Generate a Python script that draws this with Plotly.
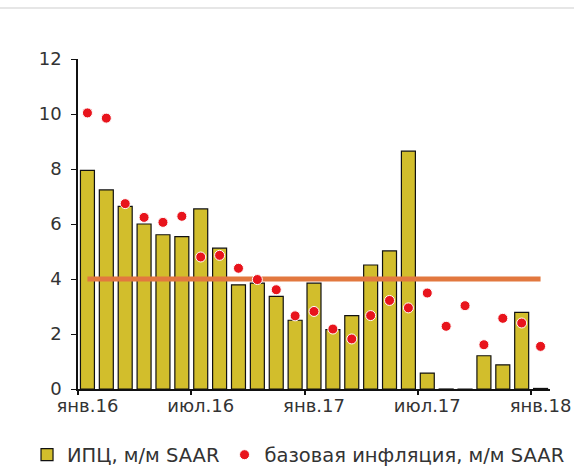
import plotly.graph_objects as go

tick_labels = ["янв.16", "июл.16", "янв.17", "июл.17", "янв.18"]
cpi_mm_saar = [7.95, 7.24, 6.64, 6.0, 5.61, 5.54, 6.55, 5.12, 3.79, 3.85, 3.37, 2.5,
               3.85, 2.16, 2.67, 4.51, 5.02, 8.65, 0.58, -0.04, -0.1, 1.21, 0.88, 2.79, 0.02]
core_mm_saar = [10.04, 9.85, 6.74, 6.24, 6.06, 6.28, 4.8, 4.86, 4.39, 3.98, 3.61, 2.66,
                2.82, 2.18, 1.82, 2.67, 3.22, 2.95, 3.49, 2.28, 3.03, 1.61, 2.57, 2.4, 1.55]
target = [4] * len(cpi_mm_saar)

idx = list(range(len(cpi_mm_saar)))
label_pos = list(range(0, len(idx), 6))
tick_pos = [i - 0.5 for i in label_pos]
xrange = [-0.5, len(idx) - 0.5]

FONT = "DejaVu Sans, Verdana, sans-serif"
TXT = "#333333"

W, H = 574, 467
ML, MR, MT, MB = 78, 24, 59, 78
plot_h = H - MT - MB

fig = go.Figure()
fig.add_trace(go.Bar(
    x=idx, y=cpi_mm_saar, name="ИПЦ, м/м SAAR", width=0.74,
    marker=dict(color="#D2BE2C", line=dict(color="#111111", width=1.2)),
))
fig.add_trace(go.Scatter(
    x=idx, y=target, mode="lines", showlegend=False, xaxis="x2",
    line=dict(color="#E2783F", width=5),
))
fig.add_trace(go.Scatter(
    x=idx, y=core_mm_saar, mode="markers", name="базовая инфляция, м/м SAAR", xaxis="x2",
    marker=dict(color="#E8141C", size=10, line=dict(color="white", width=1)),
))

fig.update_layout(
    width=W, height=H,
    margin=dict(l=ML, r=MR, t=MT, b=MB, autoexpand=False),
    paper_bgcolor="white", plot_bgcolor="white",
    font=dict(family=FONT, size=18, color=TXT),
    legend=dict(orientation="h", x=-0.108, xanchor="left", y=-0.2, yanchor="middle",
                font=dict(size=19.5, color=TXT), itemwidth=30, tracegroupgap=0),
    xaxis=dict(range=xrange, tickmode="array", tickvals=label_pos,
               ticktext=tick_labels, showline=True, linecolor="#111111", linewidth=1.5,
               ticks="", showgrid=False, zeroline=False),
    xaxis2=dict(range=xrange, overlaying="x", anchor="y", side="bottom",
                tickmode="array", tickvals=tick_pos, showticklabels=False,
                ticks="outside", ticklen=5, tickcolor="#111111", tickwidth=1.5,
                showline=False, showgrid=False, zeroline=False),
    yaxis=dict(range=[0, 12], dtick=2, showline=True, linecolor="#111111", linewidth=1.5,
               ticks="outside", ticklen=5, tickcolor="#111111", showgrid=False,
               zeroline=False, ticklabelstandoff=6),
    shapes=[dict(type="line", xref="paper", yref="paper", x0=-0.2, x1=1.1,
                 y0=1 + (MT - 8) / plot_h, y1=1 + (MT - 8) / plot_h,
                 line=dict(color="#e6e6e6", width=2))],
)

fig.write_html(
    "out.html",
    config={"displayModeBar": False},
    post_script="document.body.style.margin='0';document.body.style.overflow='hidden';",
)
